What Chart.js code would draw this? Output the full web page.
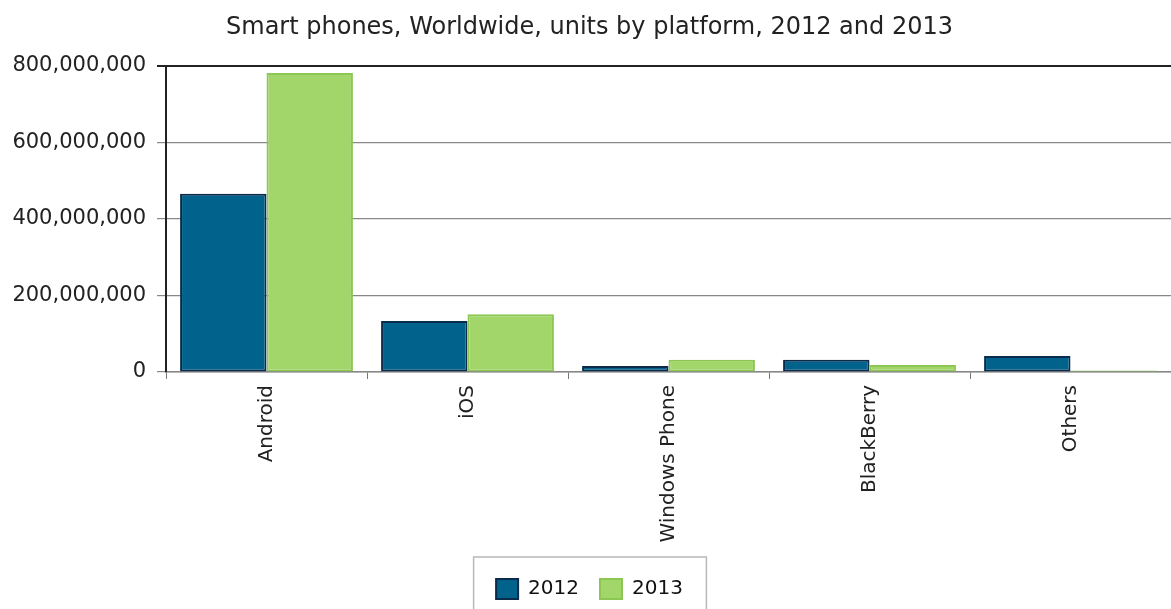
<!DOCTYPE html>
<html>
<head>
<meta charset="utf-8">
<script src="https://cdn.jsdelivr.net/npm/chart.js@4"></script>
<style>
  html, body { margin: 0; padding: 0; background: #fff; }
  #wrap { width: 1171px; height: 609px; }
</style>
</head>
<body>
<div id="wrap"><canvas id="c" width="1171" height="609"></canvas></div>
<script>
const categories = ["Android", "iOS", "Windows Phone", "BlackBerry", "Others"];
const seriesNames = ["2012", "2013"];
const values2012 = [466000000, 133000000, 16000000, 32000000, 42000000];
const values2013 = [781000000, 151000000, 32000000, 18000000, 4000000];
const yTicks = [0, 200000000, 400000000, 600000000, 800000000];

const FONT = "'DejaVu Sans', Verdana, sans-serif";

const legendBox = {
  id: 'legendBox',
  afterDraw(chart) {
    const lg = chart.legend;
    if (!lg || !lg.legendHitBoxes || !lg.legendHitBoxes.length) return;
    const hb = lg.legendHitBoxes;
    let minX = Infinity, maxX = -Infinity, minY = Infinity, maxY = -Infinity;
    hb.forEach(h => { minX = Math.min(minX, h.left); maxX = Math.max(maxX, h.left + h.width); minY = Math.min(minY, h.top); maxY = Math.max(maxY, h.top + h.height); });
    const cy = (minY + maxY) / 2;
    const ctx = chart.ctx;
    ctx.save();
    ctx.strokeStyle = '#b8b8b8';
    ctx.lineWidth = 1.5;
    ctx.strokeRect(minX - 22.5, cy - 32, (maxX - minX) + 46, 90);
    ctx.restore();
  }
};

new Chart(document.getElementById('c'), {
  type: 'bar',
  data: {
    labels: categories,
    datasets: [
      {
        label: seriesNames[0],
        data: values2012,
        backgroundColor: '#01628c',
        borderColor: '#0b2b4c',
        borderWidth: 2,
        borderSkipped: false
      },
      {
        label: seriesNames[1],
        data: values2013,
        backgroundColor: '#a2d66a',
        borderColor: '#8cc653',
        borderWidth: 2,
        borderSkipped: false
      }
    ]
  },
  options: {
    responsive: false,
    animation: false,
    devicePixelRatio: 1,
    layout: { padding: { left: 8, right: 0, top: 0, bottom: 0 } },
    datasets: { bar: { categoryPercentage: 0.86, barPercentage: 1.0 } },
    plugins: {
      title: {
        display: true,
        text: 'Smart phones, Worldwide, units by platform, 2012 and 2013',
        color: '#222',
        font: { family: FONT, size: 24, weight: 'normal' },
        padding: { top: 13, bottom: 24 }
      },
      legend: {
        position: 'bottom',
        labels: {
          color: '#111',
          font: { family: FONT, size: 20 },
          boxWidth: 22,
          boxHeight: 20,
          padding: 21
        }
      },
      tooltip: { enabled: false }
    },
    scales: {
      x: {
        offset: true,
        grid: {
          offset: true,
          drawOnChartArea: false,
          drawTicks: true,
          tickLength: 7,
          color: '#777'
        },
        border: { color: '#888', width: 1.5 },
        ticks: {
          color: '#222',
          font: { family: FONT, size: 20 },
          minRotation: 90,
          maxRotation: 90,
          padding: 6
        },
        afterFit(scale) { scale.height = 186; }
      },
      y: {
        min: 0,
        max: 800000000,
        afterBuildTicks(scale) { scale.ticks = yTicks.map(v => ({ value: v })); },
        grid: {
          color: (ctx) => (ctx.tick && ctx.tick.value === 800000000) ? '#222' : '#888',
          lineWidth: (ctx) => (ctx.tick && ctx.tick.value === 800000000) ? 2 : 1.2,
          tickLength: 9
        },
        border: { color: '#222', width: 2 },
        ticks: {
          color: '#222',
          font: { family: FONT, size: 21 },
          padding: 11,
          callback: (v) => Number(v).toLocaleString('en-US')
        },
        afterFit(scale) { scale.width = 158; }
      }
    }
  },
  plugins: [legendBox]
});
</script>
</body>
</html>
